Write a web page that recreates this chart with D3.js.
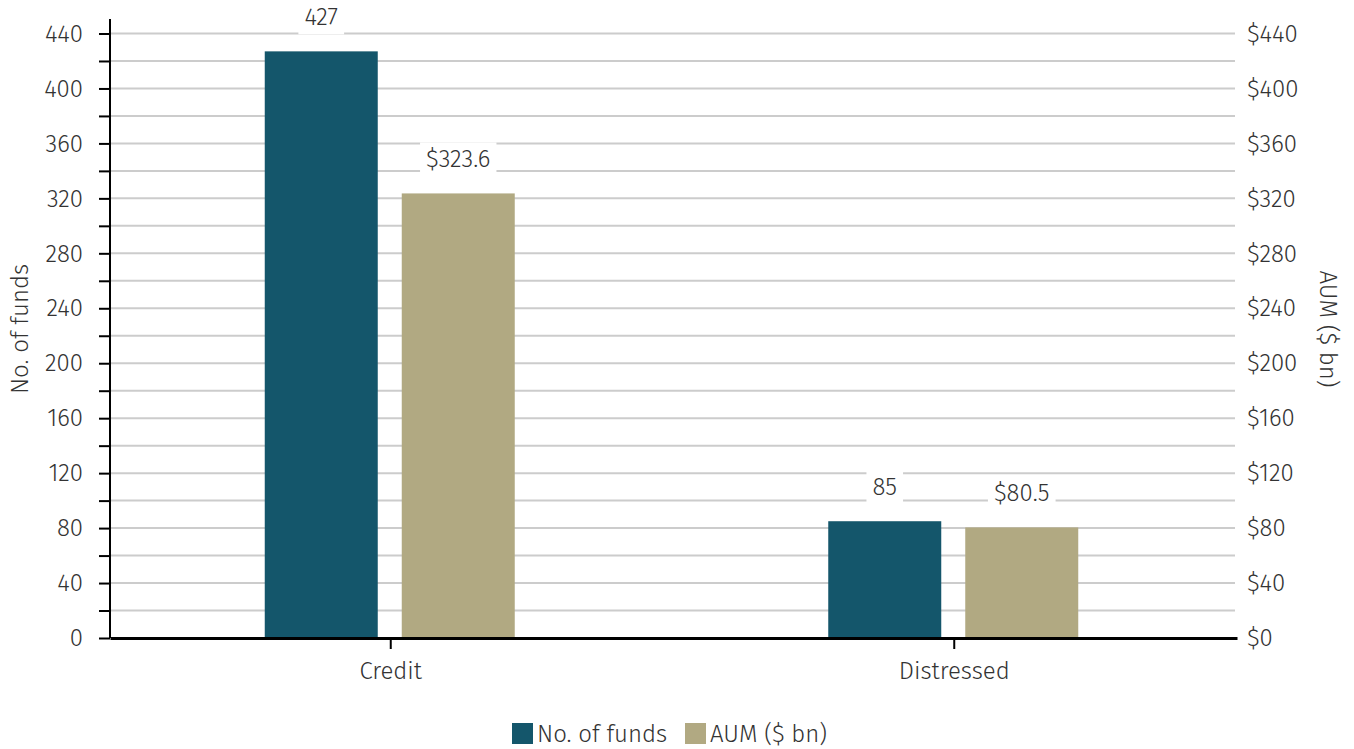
<!DOCTYPE html>
<html><head><meta charset="utf-8">
<script src="https://cdn.jsdelivr.net/npm/d3@7"></script>
<style>
body{margin:0;background:#fff;}
text{font-family:"Fira Sans",Roboto,"Open Sans",sans-serif;font-weight:300;fill:#333;}
</style></head><body>
<svg id="c" width="1354" height="749"></svg>
<script>
const categories = ["Credit","Distressed"];
const seriesNames = ["No. of funds","AUM ($ bn)"];
const funds = [427, 85];
const aum = [323.6, 80.5];
const fundLabels = ["427","85"];
const aumLabels = ["$323.6","$80.5"];
const leftTicks = [0,40,80,120,160,200,240,280,320,360,400,440];
const rightTicks = [0,40,80,120,160,200,240,280,320,360,400,440];
const gridTicks = d3.range(0, 441, 20);
const colors = ["#14566B","#B1A982"];
const FS = 24;
const FF = '"Fira Sans",Roboto,sans-serif';

const svg = d3.select("#c");
const m = {l:110, r:1237, t:33.5, b:638};
const yL = d3.scaleLinear().domain([0,440]).range([m.b, m.t]);
const yR = d3.scaleLinear().domain([0,440]).range([m.b, m.t]);
const x0 = d3.scaleBand().domain(categories).range([m.l, m.r]);

// gridlines
svg.append("g").selectAll("line").data(gridTicks.filter(d=>d>0)).join("line")
  .attr("x1", m.l).attr("x2", 1235).attr("y1", d=>yL(d)).attr("y2", d=>yL(d))
  .attr("stroke","#cccccc").attr("stroke-width",2);

// bars
const data = categories.map((c,i)=>({c, vals:[{s:seriesNames[0], v:funds[i], y:yL, lab:fundLabels[i]},{s:seriesNames[1], v:aum[i], y:yR, lab:aumLabels[i]}]}));
const bw = 113, gap = 24;
const g = svg.append("g");
data.forEach(d=>{
  const cx = x0(d.c) + x0.bandwidth()/2 - 2;
  d.vals.forEach((v,j)=>{
    const xx = j===0 ? cx - gap/2 - bw : cx + gap/2;
    g.append("rect").attr("x", xx).attr("width", bw)
      .attr("y", v.y(v.v)).attr("height", m.b - v.y(v.v)).attr("fill", colors[j]);
    const ty = v.y(v.v) - 34;
    const t = g.append("text").attr("x", xx + bw/2).attr("y", ty)
      .attr("text-anchor","middle").attr("dominant-baseline","central")
      .attr("font-size", FS).text(v.lab);
    const bb = t.node().getBBox();
    g.insert("rect", function(){return t.node();})
      .attr("x", bb.x - 6).attr("y", bb.y - 3).attr("width", bb.width + 12).attr("height", bb.height + 6)
      .attr("fill","#fff");
  });
});

// left axis
const la = svg.append("g").attr("transform",`translate(${m.l},0)`)
  .call(d3.axisLeft(yL).tickValues(gridTicks).tickSize(11).tickFormat(d=> leftTicks.includes(d) ? d3.format("d")(d) : ""));
la.select(".domain").attr("stroke","#000").attr("stroke-width",2).attr("d", `M0,19V${m.b}`);
la.selectAll(".tick line").attr("stroke","#000").attr("stroke-width",2);
la.selectAll(".tick text").attr("font-size",FS).attr("fill","#333").attr("x",-27).style("font-family",FF).style("font-weight",300);

// right axis
const ra = svg.append("g").attr("transform",`translate(1247,0)`)
  .call(d3.axisRight(yR).tickValues(rightTicks).tickSize(0).tickFormat(d=>"$"+d));
ra.select(".domain").remove();
ra.selectAll(".tick text").attr("font-size",FS).attr("fill","#333").attr("x",0).style("font-family",FF).style("font-weight",300);

// bottom axis
const ba = svg.append("g").attr("transform",`translate(0,${m.b})`)
  .call(d3.axisBottom(x0).tickSize(11).tickSizeOuter(0));
ba.select(".domain").attr("stroke","#000").attr("stroke-width",3);
ba.selectAll(".tick line").attr("stroke","#000").attr("stroke-width",2);
ba.selectAll(".tick").attr("transform", d=>`translate(${x0(d)+x0.bandwidth()/2 - 1},0)`);
ba.selectAll(".tick text").attr("font-size",FS).attr("fill","#333").attr("y",24).style("font-family",FF).style("font-weight",300);

// axis titles
svg.append("text").attr("transform","translate(20,329) rotate(-90)").attr("text-anchor","middle")
  .attr("dominant-baseline","central").attr("font-size",FS).text("No. of funds");
svg.append("text").attr("transform","translate(1328,329) rotate(90)").attr("text-anchor","middle")
  .attr("dominant-baseline","central").attr("font-size",FS).text("AUM ($ bn)");

// legend
const lg = svg.append("g");
const legX = [512, 685];
seriesNames.forEach((s,i)=>{
  lg.append("rect").attr("x", legX[i]).attr("y",723).attr("width",21).attr("height",21).attr("fill",colors[i]);
  lg.append("text").attr("x", legX[i]+25).attr("y",734).attr("dominant-baseline","central").attr("font-size",FS).text(s);
});
</script></body></html>
